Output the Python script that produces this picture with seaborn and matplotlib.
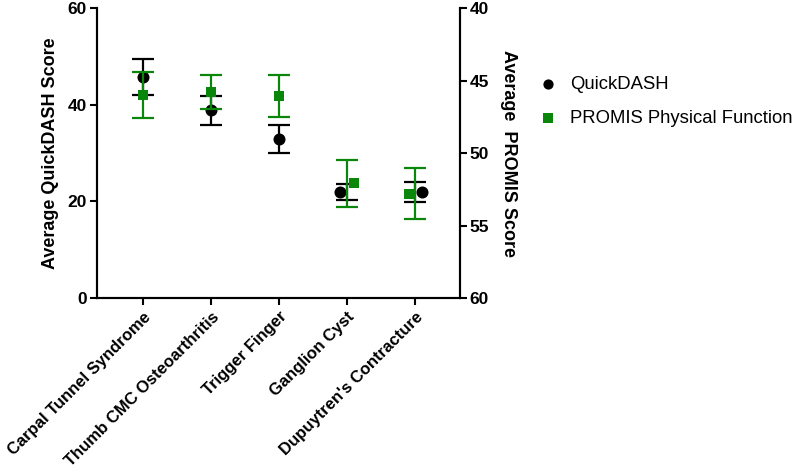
import pandas as pd
import matplotlib
matplotlib.use('Agg')
import matplotlib.pyplot as plt
import seaborn as sns

sns.set_style("white")
plt.rcParams['font.family'] = ['Liberation Sans', 'DejaVu Sans']
plt.rcParams['text.color'] = 'black'
plt.rcParams['axes.labelcolor'] = 'black'
plt.rcParams['xtick.color'] = 'black'
plt.rcParams['ytick.color'] = 'black'

conditions = ['Carpal Tunnel Syndrome', 'Thumb CMC Osteoarthritis', 'Trigger Finger',
              'Ganglion Cyst', "Dupuytren's Contracture"]
quickdash_mean = [45.8, 38.8, 32.9, 21.9, 21.9]
quickdash_err = [3.7, 2.9, 3.0, 1.65, 2.0]
promis_mean = [46.0, 45.8, 46.1, 52.1, 52.8]
promis_err = [1.6, 1.15, 1.45, 1.65, 1.75]

# small sideways nudge of the markers where they overlap (as in the original)
nudge_qd = [0, 0, 0, -0.1, 0.1]
nudge_pr = [0, 0, 0, 0.1, -0.09]

green = '#0a860a'

df = pd.DataFrame({'condition': conditions, 'qd': quickdash_mean, 'qd_err': quickdash_err,
                   'pr': promis_mean, 'pr_err': promis_err})
df['x'] = range(len(df))
df['x_qd'] = df['x'] + nudge_qd
df['x_pr'] = df['x'] + nudge_pr

fig = plt.figure(figsize=(8, 4.73), dpi=100)
ax = fig.add_axes([0.121, 0.370, 0.454, 0.613])
ax2 = ax.twinx()

ax.errorbar(df['x'], df['qd'], yerr=df['qd_err'], fmt='none', ecolor='black',
            elinewidth=1.6, capsize=8, capthick=1.6, zorder=2)
sns.scatterplot(x='x_qd', y='qd', data=df, ax=ax, color='black', marker='o', s=75,
                edgecolor='black', linewidth=0, zorder=3, label='QuickDASH', legend=False)

ax2.errorbar(df['x'], df['pr'], yerr=df['pr_err'], fmt='none', ecolor=green,
             elinewidth=1.6, capsize=8, capthick=1.6, zorder=2)
sns.scatterplot(x='x_pr', y='pr', data=df, ax=ax2, color=green, marker='s', s=60,
                edgecolor=green, linewidth=0, zorder=3, label='PROMIS Physical Function', legend=False)

ax.set_xlim(-0.68, 4.66)
ax.set_ylim(0, 60)
ax.set_yticks([0, 20, 40, 60])
ax2.set_ylim(60, 40)
ax2.set_yticks([40, 45, 50, 55, 60])

ax.set_xticks(df['x'])
ax.set_xticklabels(conditions, rotation=45, ha='right', rotation_mode='anchor',
                   fontsize=12, fontweight='bold')
ax.set_xlabel('')
ax.set_ylabel('Average QuickDASH Score', fontsize=13, fontweight='bold', labelpad=6)
ax2.set_ylabel('Average  PROMIS Score', fontsize=13, fontweight='bold',
               rotation=-90, labelpad=20)
ax2.set_xlabel('')

for a in (ax, ax2):
    for s in a.spines.values():
        s.set_linewidth(1.5)
        s.set_color('black')
    a.spines['top'].set_visible(False)
    a.tick_params(width=1.5, length=5, color='black', labelsize=12.5, direction='out')
    for lab in a.get_yticklabels():
        lab.set_fontweight('bold')
ax.tick_params(axis='y', left=True, right=False, pad=2)
ax.tick_params(axis='x', bottom=True, pad=3, labelsize=12)
ax2.tick_params(axis='y', right=True, pad=2)
ax.grid(False)
ax2.grid(False)

h1, l1 = ax.get_legend_handles_labels()
h2, l2 = ax2.get_legend_handles_labels()
fig.legend(h1 + h2, l1 + l2, loc='upper left', bbox_to_anchor=(0.653, 0.875),
           frameon=False, fontsize=13.3, handletextpad=0.7, labelspacing=0.95,
           handlelength=1.0, markerscale=0.85)

fig.savefig('out.png', dpi=100)
